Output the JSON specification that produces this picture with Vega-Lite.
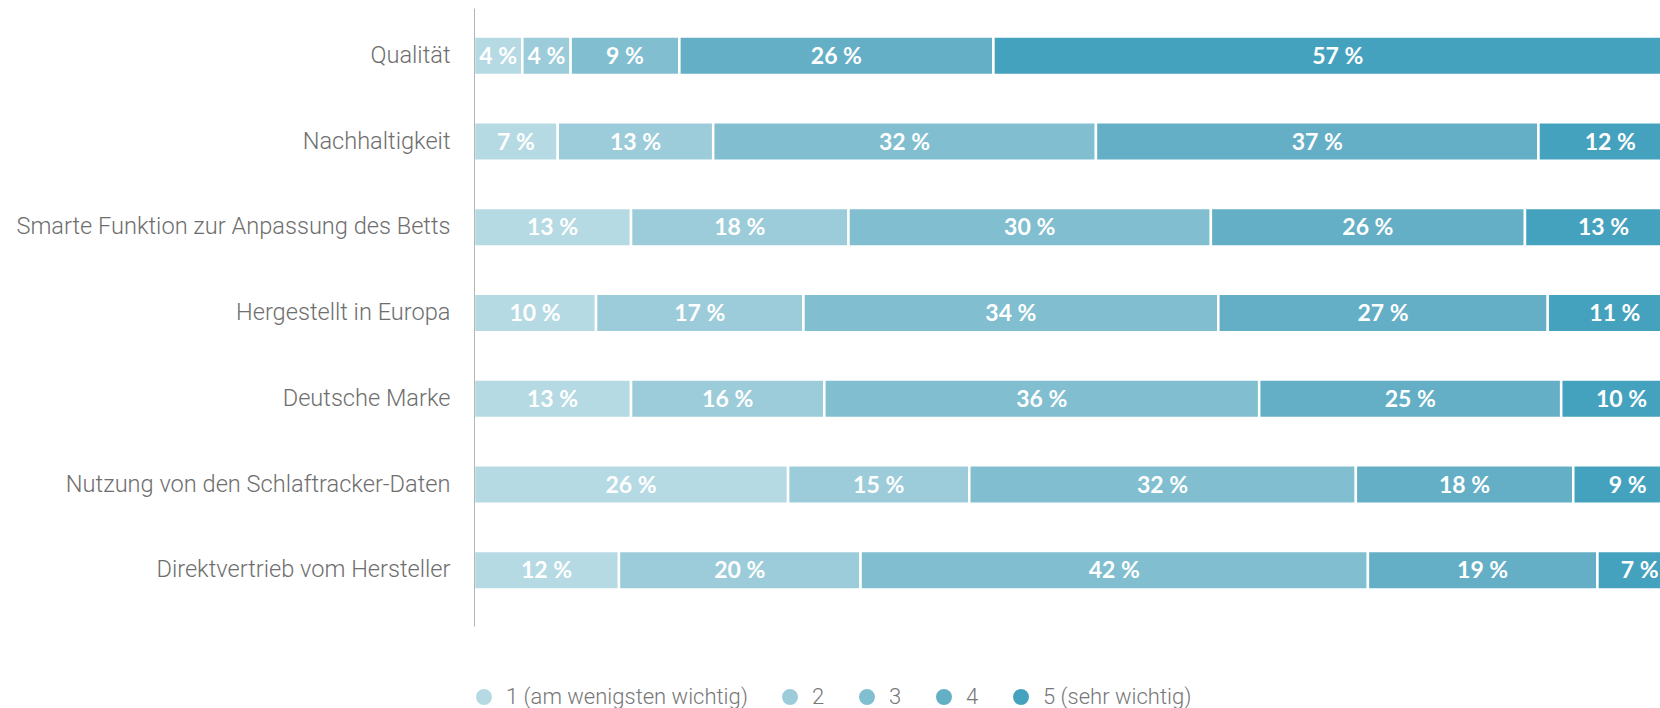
{
  "$schema": "https://vega.github.io/schema/vega-lite/v6.json",
  "width": 1186,
  "height": 618,
  "autosize": {"type": "none"},
  "padding": {"left": 474, "top": 8, "right": 0, "bottom": 82},
  "background": "white",
  "config": {"view": {"stroke": null}},
  "data": {
    "values": [
      {"item": "Qualität", "level": "1 (am wenigsten wichtig)", "pct": 4, "label": "4 %"},
      {"item": "Qualität", "level": "2", "pct": 4, "label": "4 %"},
      {"item": "Qualität", "level": "3", "pct": 9, "label": "9 %"},
      {"item": "Qualität", "level": "4", "pct": 26, "label": "26 %"},
      {"item": "Qualität", "level": "5 (sehr wichtig)", "pct": 57, "label": "57 %"},
      {"item": "Nachhaltigkeit", "level": "1 (am wenigsten wichtig)", "pct": 7, "label": "7 %"},
      {"item": "Nachhaltigkeit", "level": "2", "pct": 13, "label": "13 %"},
      {"item": "Nachhaltigkeit", "level": "3", "pct": 32, "label": "32 %"},
      {"item": "Nachhaltigkeit", "level": "4", "pct": 37, "label": "37 %"},
      {"item": "Nachhaltigkeit", "level": "5 (sehr wichtig)", "pct": 12, "label": "12 %"},
      {"item": "Smarte Funktion zur Anpassung des Betts", "level": "1 (am wenigsten wichtig)", "pct": 13, "label": "13 %"},
      {"item": "Smarte Funktion zur Anpassung des Betts", "level": "2", "pct": 18, "label": "18 %"},
      {"item": "Smarte Funktion zur Anpassung des Betts", "level": "3", "pct": 30, "label": "30 %"},
      {"item": "Smarte Funktion zur Anpassung des Betts", "level": "4", "pct": 26, "label": "26 %"},
      {"item": "Smarte Funktion zur Anpassung des Betts", "level": "5 (sehr wichtig)", "pct": 13, "label": "13 %"},
      {"item": "Hergestellt in Europa", "level": "1 (am wenigsten wichtig)", "pct": 10, "label": "10 %"},
      {"item": "Hergestellt in Europa", "level": "2", "pct": 17, "label": "17 %"},
      {"item": "Hergestellt in Europa", "level": "3", "pct": 34, "label": "34 %"},
      {"item": "Hergestellt in Europa", "level": "4", "pct": 27, "label": "27 %"},
      {"item": "Hergestellt in Europa", "level": "5 (sehr wichtig)", "pct": 11, "label": "11 %"},
      {"item": "Deutsche Marke", "level": "1 (am wenigsten wichtig)", "pct": 13, "label": "13 %"},
      {"item": "Deutsche Marke", "level": "2", "pct": 16, "label": "16 %"},
      {"item": "Deutsche Marke", "level": "3", "pct": 36, "label": "36 %"},
      {"item": "Deutsche Marke", "level": "4", "pct": 25, "label": "25 %"},
      {"item": "Deutsche Marke", "level": "5 (sehr wichtig)", "pct": 10, "label": "10 %"},
      {"item": "Nutzung von den Schlaftracker-Daten", "level": "1 (am wenigsten wichtig)", "pct": 26, "label": "26 %"},
      {"item": "Nutzung von den Schlaftracker-Daten", "level": "2", "pct": 15, "label": "15 %"},
      {"item": "Nutzung von den Schlaftracker-Daten", "level": "3", "pct": 32, "label": "32 %"},
      {"item": "Nutzung von den Schlaftracker-Daten", "level": "4", "pct": 18, "label": "18 %"},
      {"item": "Nutzung von den Schlaftracker-Daten", "level": "5 (sehr wichtig)", "pct": 9, "label": "9 %"},
      {"item": "Direktvertrieb vom Hersteller", "level": "1 (am wenigsten wichtig)", "pct": 12, "label": "12 %"},
      {"item": "Direktvertrieb vom Hersteller", "level": "2", "pct": 20, "label": "20 %"},
      {"item": "Direktvertrieb vom Hersteller", "level": "3", "pct": 42, "label": "42 %"},
      {"item": "Direktvertrieb vom Hersteller", "level": "4", "pct": 19, "label": "19 %"},
      {"item": "Direktvertrieb vom Hersteller", "level": "5 (sehr wichtig)", "pct": 7, "label": "7 %"}
    ]
  },
  "transform": [
    {"stack": "pct", "groupby": ["item"], "sort": [{"field": "level", "order": "ascending"}], "offset": "normalize", "as": ["x0", "x1"]}
  ],
  "encoding": {
    "y": {
      "field": "item",
      "type": "nominal",
      "sort": ["Qualität", "Nachhaltigkeit", "Smarte Funktion zur Anpassung des Betts", "Hergestellt in Europa", "Deutsche Marke", "Nutzung von den Schlaftracker-Daten", "Direktvertrieb vom Hersteller"],
      "scale": {"paddingInner": 0.551, "paddingOuter": 0.379, "align": 0.44},
      "axis": {
        "title": null,
        "ticks": false,
        "zindex": 1,
        "domainColor": "#b5b5b5",
        "domainWidth": 1,
        "labelFont": "Roboto",
        "labelFontWeight": 300,
        "labelFontSize": 23.6,
        "labelColor": "#6e6e6e",
        "labelPadding": 24,
        "labelLimit": 600
      }
    }
  },
  "layer": [
    {
      "mark": {"type": "bar", "stroke": "white", "strokeWidth": 2.5, "clip": true},
      "encoding": {
        "x": {"field": "x0", "type": "quantitative", "scale": {"domain": [0, 0.9818], "nice": false, "zero": true}, "axis": null},
        "x2": {"field": "x1"},
        "color": {
          "field": "level",
          "type": "nominal",
          "scale": {
            "domain": ["1 (am wenigsten wichtig)", "2", "3", "4", "5 (sehr wichtig)"],
            "range": ["#b6dae3", "#9cccda", "#80bed0", "#64afc6", "#45a2be"]
          },
          "legend": {
            "title": null,
            "orient": "none",
            "direction": "horizontal",
            "legendX": -1,
            "legendY": 678,
            "padding": 0,
            "symbolType": "circle",
            "symbolSize": 254,
            "symbolStrokeWidth": 0,
            "symbolOpacity": 1,
            "labelFont": "Roboto",
            "labelFontWeight": 300,
            "labelFontSize": 22,
            "labelColor": "#777777",
            "labelOffset": 11,
            "columnPadding": 31,
            "labelLimit": 400
          }
        }
      }
    },
    {
      "transform": [
        {"fold": ["x0", "x1"], "as": ["edge", "pos"]},
        {"aggregate": [{"op": "mean", "field": "pos", "as": "mid"}], "groupby": ["item", "level", "label"]}
      ],
      "mark": {"type": "text", "color": "white", "font": "Lato", "fontWeight": "bold", "fontSize": 23, "baseline": "middle", "align": "center", "dy": 1},
      "encoding": {
        "x": {"field": "mid", "type": "quantitative"},
        "text": {"field": "label", "type": "nominal"}
      }
    }
  ]
}
